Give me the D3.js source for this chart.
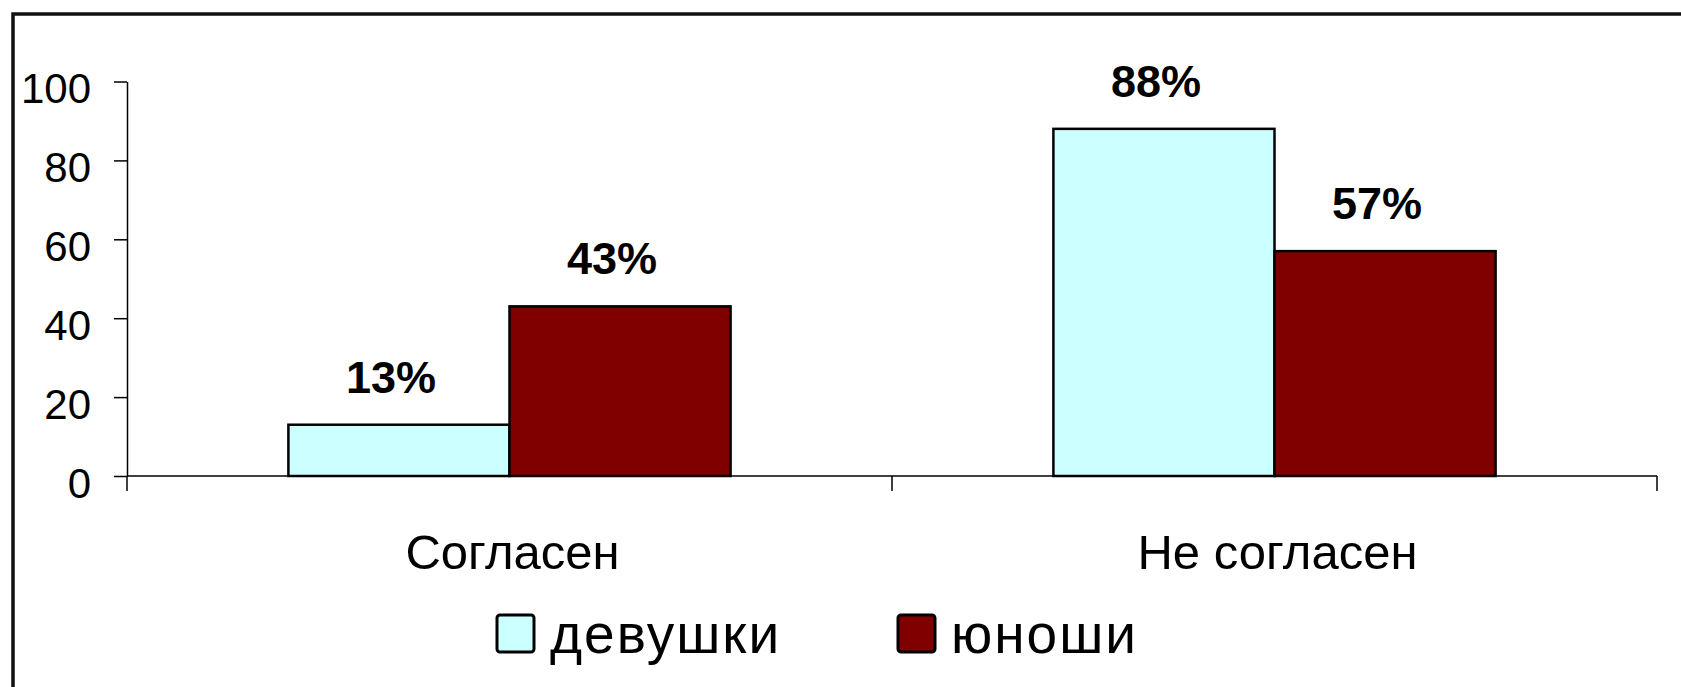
<!DOCTYPE html>
<html>
<head>
<meta charset="utf-8">
<script src="https://cdn.jsdelivr.net/npm/d3@7"></script>
<style>
  body { margin: 0; background: #fff; }
  text { font-family: "Liberation Sans", Arial, sans-serif; }
</style>
</head>
<body>
<div id="chart"></div>
<script>
// data
var categories = ["Согласен", "Не согласен"];
var seriesNames = ["девушки", "юноши"];
var girls = [13, 88];
var boys = [43, 57];
var yTicks = [0, 20, 40, 60, 80, 100];
var colors = ["#ccffff", "#800000"];

var W = 1681, H = 687;
var plot = {left: 127, right: 1657, top: 81.5, bottom: 476};

var svg = d3.select("#chart")
  .append("svg")
    .attr("width", W)
    .attr("height", H);

svg.append("rect").attr("width", W).attr("height", H).attr("fill", "#fff");

// outer frame (runs off the right and bottom edges)
svg.append("rect")
    .attr("x", 13).attr("y", 14)
    .attr("width", W + 20).attr("height", H + 20)
    .attr("fill", "none")
    .attr("stroke", "#111")
    .attr("stroke-width", 3.5);

var x0 = d3.scaleBand()
    .domain(categories)
    .range([plot.left, plot.right])
    .padding(0);

var x1 = d3.scaleBand()
    .domain(seriesNames)
    .range([0, x0.bandwidth()])
    .paddingInner(0)
    .paddingOuter(0.73);

var y = d3.scaleLinear()
    .domain([0, 100])
    .range([plot.bottom, plot.top]);

// Y axis
var yAxis = svg.append("g")
    .attr("transform", "translate(" + plot.left + ",0)")
    .call(d3.axisLeft(y).tickValues(yTicks).tickSize(13).tickPadding(23).tickSizeOuter(0));
yAxis.select(".domain").attr("stroke", "#000").attr("stroke-width", 1.5);
yAxis.selectAll(".tick line").attr("stroke", "#000").attr("stroke-width", 1.5);
yAxis.selectAll(".tick text")
    .attr("font-size", 42)
    .attr("fill", "#000")
    .attr("font-family", "Liberation Sans, Arial, sans-serif")
    .attr("dy", "0.5em");

// X axis: line plus tick marks on category boundaries
var bounds = [plot.left].concat(categories.map(function(c){ return x0(c) + x0.bandwidth(); }));
svg.append("line")
    .attr("x1", plot.left).attr("x2", plot.right)
    .attr("y1", plot.bottom).attr("y2", plot.bottom)
    .attr("stroke", "#000").attr("stroke-width", 1.5);
svg.selectAll(".xtick")
  .data(bounds)
  .enter().append("line")
    .attr("class", "xtick")
    .attr("x1", function(d){ return d; }).attr("x2", function(d){ return d; })
    .attr("y1", plot.bottom).attr("y2", plot.bottom + 15)
    .attr("stroke", "#000").attr("stroke-width", 1.5);

// category labels
svg.selectAll(".cat")
  .data(categories)
  .enter().append("text")
    .attr("class", "cat")
    .attr("x", function(d){ return x0(d) + x0.bandwidth() / 2 + 3; })
    .attr("y", 569)
    .attr("text-anchor", "middle")
    .attr("font-size", 49)
    .attr("fill", "#000")
    .text(function(d){ return d; });

// build rows for the bars
var rows = [];
categories.forEach(function(c, i) {
  rows.push({cat: c, s: seriesNames[0], v: girls[i], col: colors[0]});
  rows.push({cat: c, s: seriesNames[1], v: boys[i], col: colors[1]});
});

svg.append("g")
  .selectAll("rect")
  .data(rows)
  .enter().append("rect")
    .attr("x", function(d){ return x0(d.cat) + x1(d.s); })
    .attr("y", function(d){ return y(d.v); })
    .attr("width", x1.bandwidth())
    .attr("height", function(d){ return y(0) - y(d.v); })
    .attr("fill", function(d){ return d.col; })
    .attr("stroke", "#000")
    .attr("stroke-width", 2.5);

// value labels
svg.append("g")
  .selectAll("text")
  .data(rows)
  .enter().append("text")
    .attr("x", function(d){ return x0(d.cat) + x1(d.s) + x1.bandwidth() / 2 - 8; })
    .attr("y", function(d){ return y(d.v) - 32; })
    .attr("text-anchor", "middle")
    .attr("font-size", 45)
    .attr("font-weight", "bold")
    .attr("fill", "#000")
    .text(function(d){ return d.v + "%"; });

// legend
var legendX = [497, 898];
var legend = svg.append("g")
  .selectAll("g")
  .data(seriesNames)
  .enter().append("g")
    .attr("transform", function(d, i){ return "translate(" + legendX[i] + ",615)"; });
legend.append("rect")
    .attr("width", 37).attr("height", 37)
    .attr("rx", 3)
    .attr("fill", function(d, i){ return colors[i]; })
    .attr("stroke", "#000")
    .attr("stroke-width", 3);
legend.append("text")
    .attr("x", 53)
    .attr("y", 38)
    .attr("font-size", 55)
    .attr("letter-spacing", 2)
    .attr("fill", "#000")
    .text(function(d){ return d; });
</script>
</body>
</html>
